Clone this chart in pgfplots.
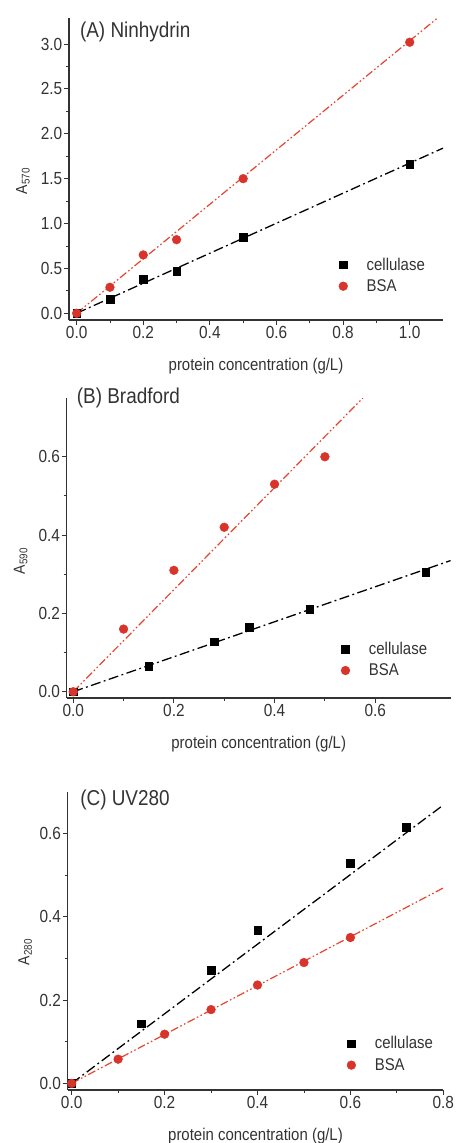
\documentclass[border=0pt]{standalone}
\usepackage{fontspec}
\setmainfont{Liberation Sans}[FakeStretch=0.88]
\usepackage{pgfplots}
\pgfplotsset{compat=1.18}
\definecolor{txt}{HTML}{333333}
\definecolor{bsared}{HTML}{D8342C}
\definecolor{fitred}{HTML}{E5452F}

\pgfplotsset{
  panel/.style={
    scale only axis, axis lines*=left, clip mode=individual,
    axis line style={-, txt, line width=1.1pt},
    tick style={txt, line width=0.9pt}, tick align=outside,
    major tick length=5pt, minor tick length=3pt,
    minor tick num=1,
    tick label style={font=\fontsize{17.5}{18}\selectfont, text=txt, inner sep=1.5pt},
    xlabel style={font=\fontsize{17}{18}\selectfont, text=txt,
      at={(axis description cs:0.5,0)}, anchor=base, yshift=-50pt},
    ylabel style={font=\fontsize{16}{17}\selectfont, text=txt, anchor=base},
    /pgf/number format/.cd, fixed, fixed zerofill, precision=1,
      assume math mode=true, /pgfplots/.cd,
    legend style={draw=none, fill=none, inner sep=0pt, anchor=west,
      nodes={inner sep=0pt}, font=\fontsize{17}{18}\selectfont,
      text=txt, row sep=8pt, column sep=19pt},
    legend cell align=left,
    xlabel={protein concentration (g/L)},
  },
  celpts/.style={only marks, mark=square*, mark size=3.8pt, black},
  bsapts/.style={only marks, mark=*, mark size=4.4pt, bsared, mark options={draw=bsared, fill=bsared}},
  fitk/.style={black, line width=1.3pt, forget plot,
    dash pattern=on 10pt off 3.5pt on 1.8pt off 3.5pt},
  fitr/.style={fitred, line width=1.2pt, forget plot,
    dash pattern=on 8pt off 2.5pt on 1.6pt off 2.5pt on 1.6pt off 2.5pt},
}
\tikzset{ttl/.style={anchor=north west, inner sep=0pt, font=\fontsize{21.5}{22}\selectfont, text=txt}}

\begin{document}
\begin{tikzpicture}
\path[use as bounding box] (0,0) rectangle (456pt,-1143pt);

% (A) Ninhydrin
\begin{axis}[panel, at={(69pt,-320pt)}, anchor=south west,
  width=374pt, height=302pt,
  xmin=-0.023, xmax=1.1, ymin=-0.075, ymax=3.29,
  xtick={0,0.2,...,1.0}, ytick={0,0.5,...,3.0},
  ylabel={A\textsubscript{570}},
  ylabel style={at={(axis description cs:-0.112,0.46)}},
  legend style={at={(rel axis cs:0.721,0.148)}},
]
\addplot[fitk] coordinates {(0,0) (1.1,1.84)};
\addplot[fitr] coordinates {(0,0) (1.1,3.34)};
\addplot[celpts] coordinates {(0,0) (0.1,0.16) (0.2,0.38) (0.3,0.47) (0.5,0.85) (1.0,1.66)};
\addplot[bsapts] coordinates {(0,0) (0.1,0.29) (0.2,0.65) (0.3,0.82) (0.5,1.50) (1.0,3.02)};
\legend{cellulase, BSA}
\node[ttl] at (rel axis cs:0.029,0.988) {(A) Ninhydrin};
\end{axis}

% (B) Bradford
\begin{axis}[panel, at={(66.7pt,-698pt)}, anchor=south west,
  width=384pt, height=300pt,
  xmin=-0.013, xmax=0.75, ymin=-0.016, ymax=0.75,
  xtick={0,0.2,...,0.6}, ytick={0,0.2,...,0.6},
  ylabel={A\textsubscript{590}},
  ylabel style={at={(axis description cs:-0.109,0.457)}},
  legend style={at={(rel axis cs:0.714,0.128)}},
]
\addplot[fitk] coordinates {(0,0) (0.75,0.335)};
\addplot[fitr] coordinates {(0,0) (0.6,0.782)};
\addplot[celpts] coordinates {(0,0) (0.15,0.065) (0.28,0.128) (0.35,0.165) (0.47,0.21) (0.70,0.305)};
\addplot[bsapts] coordinates {(0,0) (0.1,0.16) (0.2,0.31) (0.3,0.42) (0.4,0.53) (0.5,0.60)};
\legend{cellulase, BSA}
\node[ttl] at (rel axis cs:0.026,1.033) {(B) Bradford};
\end{axis}

% (C) UV280
\begin{axis}[panel, at={(67.7pt,-1090pt)}, anchor=south west,
  width=375.6pt, height=298.3pt,
  xmin=-0.0086, xmax=0.8, ymin=-0.016, ymax=0.70,
  xtick={0,0.2,...,0.8}, ytick={0,0.2,...,0.6},
  ylabel={A\textsubscript{280}},
  ylabel style={at={(axis description cs:-0.102,0.463)}},
  legend style={at={(rel axis cs:0.743,0.12)}},
]
\addplot[fitk] coordinates {(0,0) (0.8,0.668)};
\addplot[fitr] coordinates {(0,0) (0.8,0.469)};
\addplot[celpts] coordinates {(0,0) (0.15,0.143) (0.3,0.272) (0.4,0.368) (0.6,0.528) (0.72,0.615)};
\addplot[bsapts] coordinates {(0,0) (0.1,0.058) (0.2,0.118) (0.3,0.177) (0.4,0.236) (0.5,0.29) (0.6,0.35)};
\legend{cellulase, BSA}
\node[ttl] at (rel axis cs:0.033,1.006) {(C) UV280};
\end{axis}
\end{tikzpicture}
\end{document}
